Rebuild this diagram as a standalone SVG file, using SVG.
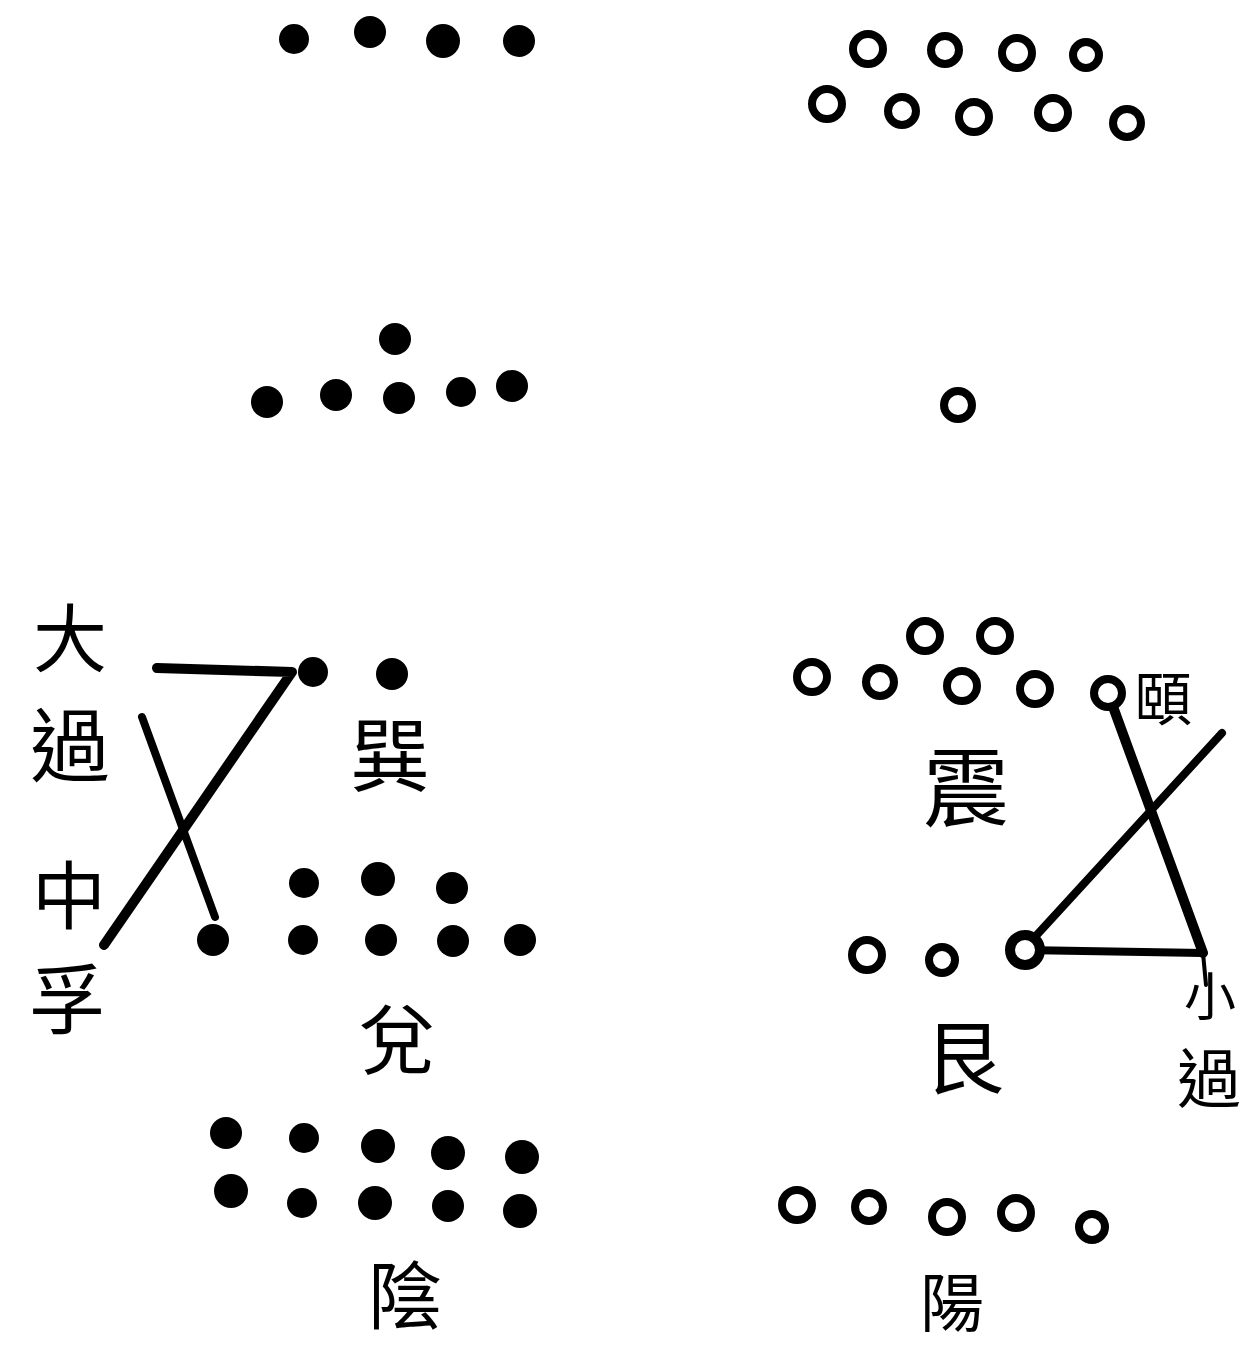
<svg xmlns="http://www.w3.org/2000/svg" width="1246" height="1350" viewBox="0 0 1246 1350">
<style>
.d{fill:#000}
.o{fill:#fff;stroke:#000;stroke-width:8}
.t{font-family:"Noto Sans CJK TC","Noto Sans CJK SC",sans-serif;fill:#000;text-anchor:middle;dominant-baseline:central}
.ln{fill:none;stroke:#000;stroke-linecap:round;stroke-linejoin:round}
</style>
<rect width="1246" height="1350" fill="#fff"/>
<g id="connectors">
<polyline class="ln" points="157,668 292,672 104,945" stroke-width="10"/>
<line class="ln" x1="142" y1="717" x2="215" y2="917" stroke-width="8"/>
<line class="ln" x1="1108" y1="693" x2="1203" y2="953" stroke-width="10"/>
<line class="ln" x1="1203" y1="953" x2="1206" y2="985" stroke-width="4"/>
<line class="ln" x1="1222" y1="733" x2="1023" y2="950" stroke-width="8"/>
<line class="ln" x1="1023" y1="950" x2="1203" y2="953" stroke-width="8"/>
</g>
<g id="top-left-dots">
<circle class="d" cx="294" cy="39" r="15"/>
<circle class="d" cx="370" cy="32" r="16"/>
<circle class="d" cx="443" cy="41" r="17"/>
<circle class="d" cx="519" cy="41" r="16"/>
</g>
<g id="top-right-circles">
<circle class="o" cx="868" cy="49" r="15"/>
<circle class="o" cx="945" cy="50" r="14"/>
<circle class="o" cx="1017" cy="53" r="15"/>
<circle class="o" cx="1086" cy="55" r="13"/>
<circle class="o" cx="827" cy="104" r="15"/>
<circle class="o" cx="902" cy="111" r="14"/>
<circle class="o" cx="974" cy="117" r="15"/>
<circle class="o" cx="1053" cy="113" r="15"/>
<circle class="o" cx="1127" cy="123" r="14"/>
</g>
<g id="middle-left-dots">
<circle class="d" cx="395" cy="339" r="16"/>
<circle class="d" cx="267" cy="402" r="16"/>
<circle class="d" cx="336" cy="395" r="16"/>
<circle class="d" cx="399" cy="398" r="16"/>
<circle class="d" cx="461" cy="392" r="15"/>
<circle class="d" cx="512" cy="386" r="16"/>
</g>
<g id="middle-right-circle">
<circle class="o" cx="958" cy="405" r="14"/>
</g>
<g id="xun">
<circle class="d" cx="313" cy="672" r="15"/>
<circle class="d" cx="392" cy="674" r="16"/>
<text class="t" x="390" y="750" font-size="80">巽</text>
</g>
<g id="dui">
<circle class="d" cx="304" cy="883" r="15"/>
<circle class="d" cx="378" cy="879" r="17"/>
<circle class="d" cx="452" cy="888" r="16"/>
<circle class="d" cx="213" cy="940" r="16"/>
<circle class="d" cx="303" cy="940" r="15"/>
<circle class="d" cx="381" cy="940" r="16"/>
<circle class="d" cx="453" cy="941" r="16"/>
<circle class="d" cx="520" cy="940" r="16"/>
<text class="t" x="397" y="1035" font-size="76">兌</text>
</g>
<g id="yin">
<circle class="d" cx="226" cy="1133" r="16"/>
<circle class="d" cx="304" cy="1138" r="15"/>
<circle class="d" cx="378" cy="1146" r="17"/>
<circle class="d" cx="448" cy="1153" r="17"/>
<circle class="d" cx="522" cy="1157" r="17"/>
<circle class="d" cx="231" cy="1191" r="17"/>
<circle class="d" cx="302" cy="1203" r="15"/>
<circle class="d" cx="375" cy="1203" r="17"/>
<circle class="d" cx="448" cy="1206" r="16"/>
<circle class="d" cx="520" cy="1211" r="17"/>
<text class="t" x="405" y="1290" font-size="74">陰</text>
</g>
<g id="daguo">
<text class="t" x="70" y="633" font-size="74">大</text>
<text class="t" x="70" y="740" font-size="80">過</text>
</g>
<g id="zhongfu">
<text class="t" x="69" y="890" font-size="74">中</text>
<text class="t" x="67" y="995" font-size="76">孚</text>
</g>
<g id="zhen">
<circle class="o" cx="925" cy="636" r="15"/>
<circle class="o" cx="995" cy="636" r="15"/>
<circle class="o" cx="812" cy="677" r="15"/>
<circle class="o" cx="880" cy="682" r="14"/>
<circle class="o" cx="962" cy="686" r="15"/>
<circle class="o" cx="1035" cy="689" r="15"/>
<text class="t" x="966" y="782" font-size="86">震</text>
</g>
<g id="yi">
<circle class="o" cx="1108" cy="693" r="14"/>
<text class="t" x="1163" y="695" font-size="58">頤</text>
</g>
<g id="gen">
<circle class="o" cx="867" cy="955" r="15"/>
<circle class="o" cx="942" cy="960" r="13"/>
<circle cx="1025" cy="950" r="15" fill="#fff" stroke="#000" stroke-width="10"/>
<text class="t" x="964" y="1052" font-size="80">艮</text>
</g>
<g id="xiaoguo">
<text class="t" x="1210" y="993" font-size="52">小</text>
<text class="t" x="1209" y="1074" font-size="64">過</text>
</g>
<g id="yang">
<circle class="o" cx="797" cy="1205" r="15"/>
<circle class="o" cx="869" cy="1207" r="14"/>
<circle class="o" cx="947" cy="1217" r="15"/>
<circle class="o" cx="1016" cy="1213" r="15"/>
<circle class="o" cx="1092" cy="1227" r="13"/>
<text class="t" x="952" y="1298" font-size="64">陽</text>
</g>
</svg>
